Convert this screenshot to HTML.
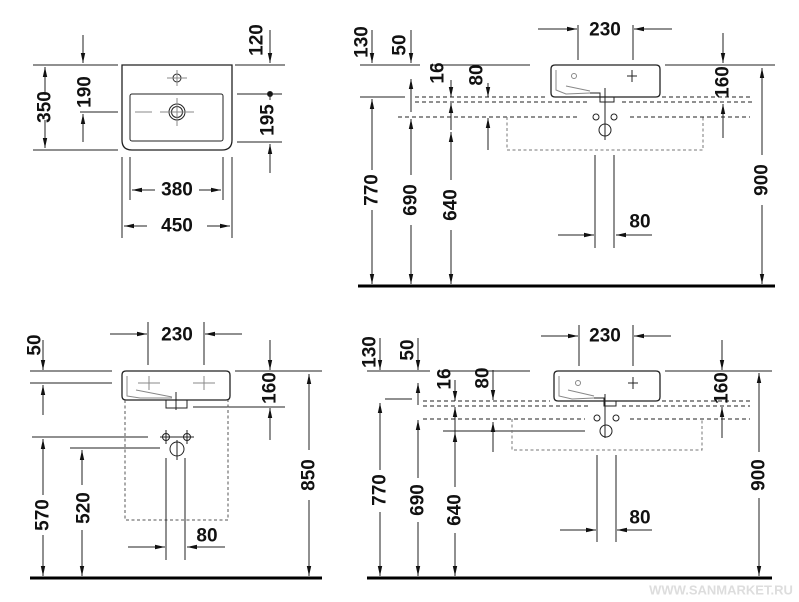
<!DOCTYPE html>
<html><head><meta charset="utf-8"><style>
html,body{margin:0;padding:0;background:#fff}
svg{display:block}
text{font-family:"Liberation Sans",sans-serif;font-weight:bold;font-size:19px;fill:#111;text-anchor:middle;dominant-baseline:central}
.r path{marker-end:url(#a)}
</style></head><body>
<svg width="799" height="602" viewBox="0 0 799 602" xmlns="http://www.w3.org/2000/svg">
<defs>
<marker id="a" viewBox="0 0 10 6" refX="10" refY="3" markerWidth="10" markerHeight="6" markerUnits="userSpaceOnUse" orient="auto"><path d="M0,0.8 L10,3 L0,5.2z" fill="#111"/></marker>
</defs>
<g stroke="#222" stroke-width="1" fill="none">
<!-- TOP LEFT -->
<path d="M122,65 H232 V140 Q232,150 222,150 H132 Q122,150 122,140 Z" stroke-width="1.3"/>
<rect x="130" y="94" width="93" height="47" rx="2"/>
<circle cx="177" cy="78" r="4"/><path d="M167,78H187M177,70V86" stroke="#888"/>
<circle cx="177" cy="112" r="8"/><circle cx="177" cy="112" r="5.5"/><path d="M160,112H194M177,98V126M135,112H152" stroke="#888"/>
<path d="M33,65H118M33,150H118M80,112H118M235,65H285M237,94H282M237,142H282"/>
<circle cx="270" cy="94" r="2.5" fill="#111"/><path d="M270,94V100"/>
<path d="M130,157V200M223,157V200M122,157V238M232,157V238"/>
<g class="r">
<path d="M45,95V67"/><path d="M45,120V148"/>
<path d="M83,35V63"/><path d="M83,142V114"/>
<path d="M270,30V63"/><path d="M270,173V144"/>
<path d="M155,190H132"/><path d="M199,190H221"/><path d="M147,226H124"/><path d="M207,226H230"/>
</g>
<!-- TOP RIGHT -->
<path d="M360,65H420M430,65H530M665,65H775M360,97H405"/>
<path d="M555,65H656Q660,65 660,69V93Q660,97 656,97H555Q551,97 551,93V69Q551,65 555,65Z" stroke-width="1.3"/>
<path d="M556,70V90L566,94L590,93M566,86L590,91" stroke="#888"/>
<circle cx="574" cy="76" r="2.5" stroke="#888"/><path d="M627,76H637M632,70V82"/>
<path d="M590,93H600V102H614V97"/>
<path d="M415,97H548M662,97H752M415,102H590M622,102H752M398,117H580M630,117H750" stroke-dasharray="4,3"/>
<path d="M507,117V150H703V117" stroke-dasharray="3,2.5" stroke="#777"/>
<circle cx="596" cy="117" r="3"/><circle cx="614" cy="117" r="3"/><circle cx="605" cy="130" r="6"/>
<path d="M605,88V140M595,155V248M614,155V248"/>
<path d="M578,25V60M633,25V60"/>
<g class="r">
<path d="M538,29H577"/><path d="M672,29H634"/>
<path d="M372,30V63"/><path d="M411,30V63"/><path d="M723,33V63"/><path d="M451,80V97"/><path d="M488,83V97"/>
<path d="M411,112V79"/><path d="M723,138V104"/><path d="M451,130V103"/><path d="M488,150V118"/>
<path d="M372,170V99"/><path d="M372,210V284"/><path d="M411,175V119"/><path d="M411,225V284"/><path d="M451,180V132"/><path d="M451,230V284"/><path d="M762,155V68"/><path d="M762,205V284"/>
<path d="M558,235H594"/><path d="M652,235H616"/>
</g>
<path d="M358,286H775" stroke="#000" stroke-width="3"/>
<!-- BOTTOM LEFT -->
<path d="M30,371H112M30,383H112M235,371H322M32,437H148M70,448H160M193,407H285"/>
<path d="M126,371H226Q230,371 230,375V396Q230,400 226,400H126Q122,400 122,396V375Q122,371 126,371Z" stroke-width="1.3"/>
<path d="M127,376V396L140,398L172,398M136,390L172,397" stroke="#888"/>
<path d="M138,383H160M149,376V390M193,383H215M204,376V390" stroke="#888"/>
<path d="M166,400V408H187V400M176,392V410"/>
<path d="M125,400V520H228V400" stroke-dasharray="3,2.5" stroke="#555"/>
<circle cx="166" cy="437" r="3.5"/><circle cx="187" cy="437" r="3.5"/><circle cx="177" cy="449" r="7"/>
<path d="M160,437H194M166,430V444M187,430V444M177,440V460M166,458V560M185,458V560"/>
<path d="M148,322V365M204,322V365"/>
<g class="r">
<path d="M110,334H147"/><path d="M242,334H205"/>
<path d="M43,340V370"/><path d="M270,340V370"/><path d="M43,415V385"/><path d="M270,440V408"/>
<path d="M43,495V439"/><path d="M43,535V576"/><path d="M82,485V450"/><path d="M82,530V576"/><path d="M309,450V374"/><path d="M309,500V576"/>
<path d="M128,547H165"/><path d="M225,547H187"/>
</g>
<path d="M30,578H322" stroke="#000" stroke-width="3"/>
<!-- BOTTOM RIGHT -->
<path d="M367,371H430M440,371H530M665,371H772M385,399H412M443,431H585"/>
<path d="M558,371H656Q660,371 660,375V397Q660,401 656,401H558Q554,401 554,397V375Q554,371 558,371Z" stroke-width="1.3"/>
<path d="M559,376V396L572,399L594,398M568,390L594,396" stroke="#888"/>
<circle cx="578" cy="383" r="2.5" stroke="#888"/><path d="M628,383H638M633,377V389"/>
<path d="M594,398H604V406H616V401M605,394V438"/>
<path d="M423,401H550M662,401H750M423,406H590M622,406H750M423,419H585M630,419H750" stroke-dasharray="4,3"/>
<path d="M512,419V450H702V419" stroke-dasharray="3,2.5" stroke="#777"/>
<circle cx="597" cy="418" r="3"/><circle cx="616" cy="418" r="3"/><circle cx="606" cy="431" r="6"/>
<path d="M597,455V542M616,455V542"/>
<path d="M579,325V366M633,325V366"/>
<g class="r">
<path d="M541,336H578"/><path d="M671,336H634"/>
<path d="M380,338V370"/><path d="M418,338V370"/><path d="M722,340V370"/><path d="M455,380V401"/><path d="M493,370V400"/>
<path d="M418,405V383"/><path d="M722,438V407"/><path d="M455,440V407"/><path d="M493,452V422"/>
<path d="M380,470V403"/><path d="M380,512V576"/><path d="M418,478V420"/><path d="M418,522V576"/><path d="M455,487V432"/><path d="M455,533V576"/><path d="M759,452V373"/><path d="M759,498V576"/>
<path d="M560,530H596"/><path d="M652,530H617"/>
</g>
<path d="M367,578H772" stroke="#000" stroke-width="3"/>
</g>
<!-- labels -->
<g>
<text transform="translate(45,107) rotate(-90)">350</text>
<text transform="translate(85,92) rotate(-90)">190</text>
<text transform="translate(257,40) rotate(-90)">120</text>
<text transform="translate(268,120) rotate(-90)">195</text>
<text x="177" y="190">380</text>
<text x="177" y="226">450</text>

<text x="605" y="30">230</text>
<text transform="translate(362,42) rotate(-90)">130</text>
<text transform="translate(400,45) rotate(-90)">50</text>
<text transform="translate(438,73) rotate(-90)">16</text>
<text transform="translate(477,75) rotate(-90)">80</text>
<text transform="translate(723,82) rotate(-90)">160</text>
<text transform="translate(372,190) rotate(-90)">770</text>
<text transform="translate(411,200) rotate(-90)">690</text>
<text transform="translate(451,205) rotate(-90)">640</text>
<text transform="translate(762,180) rotate(-90)">900</text>
<text x="640" y="222">80</text>

<text x="177" y="335">230</text>
<text transform="translate(35,345) rotate(-90)">50</text>
<text transform="translate(270,388) rotate(-90)">160</text>
<text transform="translate(43,515) rotate(-90)">570</text>
<text transform="translate(84,508) rotate(-90)">520</text>
<text transform="translate(309,475) rotate(-90)">850</text>
<text x="207" y="536">80</text>

<text x="605" y="336">230</text>
<text transform="translate(370,352) rotate(-90)">130</text>
<text transform="translate(408,350) rotate(-90)">50</text>
<text transform="translate(445,379) rotate(-90)">16</text>
<text transform="translate(483,378) rotate(-90)">80</text>
<text transform="translate(722,388) rotate(-90)">160</text>
<text transform="translate(380,490) rotate(-90)">770</text>
<text transform="translate(418,500) rotate(-90)">690</text>
<text transform="translate(455,510) rotate(-90)">640</text>
<text transform="translate(759,475) rotate(-90)">900</text>
<text x="640" y="518">80</text>
<text x="721" y="590" style="font-size:13px;fill:#ddd;font-weight:bold">WWW.SANMARKET.RU</text>
</g>
</svg>
</body></html>
